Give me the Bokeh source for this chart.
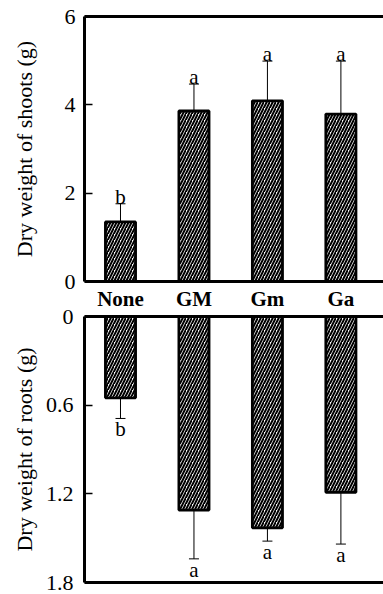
from bokeh.plotting import figure
from bokeh.layouts import column
from bokeh.models import Range1d, FixedTicker, LinearAxis, Whisker, TeeHead, ColumnDataSource
from bokeh.core.properties import value
from bokeh.embed import file_html
from bokeh.resources import INLINE

# ---- data ----
cats = ["None", "GM", "Gm", "Ga"]
shoot_mean = [1.35, 3.86, 4.09, 3.79]
shoot_err_low = [0.77, 3.28, 2.93, 2.34]
shoot_err_high = [1.76, 4.47, 4.99, 4.99]
shoot_sig = ["b", "a", "a", "a"]

root_mean = [0.55, 1.31, 1.43, 1.19]
root_err_near = [0.41, 1.00, 1.34, 0.86]
root_err_far = [0.69, 1.64, 1.52, 1.54]
root_sig = ["b", "a", "a", "a"]

shoot_ticks = [0, 2, 4, 6]
root_ticks = [0, 0.6, 1.2, 1.8]

FONT = "Liberation Serif"
xpos = list(range(1, len(cats) + 1))
x_range = Range1d(0.51, 4.58)


def plain_axis(ax):
    ax.ticker = FixedTicker(ticks=[])
    ax.axis_line_width = 3
    ax.major_tick_line_color = None
    ax.minor_tick_line_color = None
    ax.major_tick_in = 0
    ax.major_tick_out = 0
    ax.minor_tick_in = 0
    ax.minor_tick_out = 0
    ax.major_label_text_font_size = "0px"
    ax.major_label_standoff = 0
    ax.axis_label_standoff = 0


def style_left(ax, ticks, label, label_standoff, tick_standoff):
    ax.ticker = FixedTicker(ticks=ticks)
    ax.axis_line_width = 3
    ax.major_tick_in = 8
    ax.major_tick_out = 0
    ax.minor_tick_out = 0
    ax.major_tick_line_width = 1.5
    ax.minor_tick_line_color = None
    ax.major_label_text_font = FONT
    ax.major_label_text_font_size = "22px"
    ax.major_label_text_color = "black"
    ax.major_label_standoff = tick_standoff
    ax.axis_label = label
    ax.axis_label_text_font = FONT
    ax.axis_label_text_font_size = "22px"
    ax.axis_label_text_font_style = "normal"
    ax.axis_label_text_color = "black"
    ax.axis_label_standoff = label_standoff


bar_style = dict(fill_color="white", line_color="black", line_width=2.8,
                 hatch_pattern="/", hatch_color="black", hatch_scale=6, hatch_weight=2.0)

# ---- shoots ----
top = figure(width=383, height=313, output_backend="svg", toolbar_location=None,
             x_range=x_range, y_range=Range1d(0, 6),
             min_border_left=84, min_border_right=0, min_border_top=16, min_border_bottom=31)
top.outline_line_color = None
top.grid.visible = False

src_s = ColumnDataSource(dict(x=xpos, top=shoot_mean, lo=shoot_err_low, hi=shoot_err_high, sig=shoot_sig))
top.vbar(x="x", top="top", bottom=0, width=0.41, source=src_s, **bar_style)
top.add_layout(Whisker(source=src_s, base="x", upper="hi", lower="lo", line_color="black", line_width=1,
                       upper_head=TeeHead(size=10, line_width=1),
                       lower_head=TeeHead(size=10, line_width=1)))
top.text(x="x", y="hi", text="sig", source=src_s, text_font=value(FONT), text_font_size="21px",
         text_align="center", text_baseline="alphabetic", y_offset=-7, text_color="black")

xa = top.xaxis[0]
xa.ticker = FixedTicker(ticks=xpos)
xa.major_label_overrides = {x: c for x, c in zip(xpos, cats)}
xa.major_label_text_font = FONT
xa.major_label_text_font_style = "bold"
xa.major_label_text_font_size = "21px"
xa.major_label_text_color = "black"
xa.major_label_standoff = 5
xa.major_tick_line_color = None
xa.minor_tick_line_color = None
xa.major_tick_in = 0
xa.major_tick_out = 0
xa.minor_tick_in = 0
xa.minor_tick_out = 0
xa.axis_line_width = 3
style_left(top.yaxis[0], shoot_ticks, "Dry weight of shoots (g)", 25, 9)
top_line = LinearAxis()
plain_axis(top_line)
top.add_layout(top_line, "above")

# ---- roots ----
bot = figure(width=383, height=294, output_backend="svg", toolbar_location=None,
             x_range=x_range, y_range=Range1d(1.8, 0),
             min_border_left=84, min_border_right=0, min_border_top=16, min_border_bottom=12)
bot.outline_line_color = None
bot.grid.visible = False
bot.border_fill_color = None
bot.background_fill_color = None
bot.margin = (-13, 0, 0, 0)

src_r = ColumnDataSource(dict(x=xpos, bottom=root_mean, near=root_err_near, far=root_err_far, sig=root_sig))
bot.vbar(x="x", top=0, bottom="bottom", width=0.41, source=src_r, **bar_style)
bot.add_layout(Whisker(source=src_r, base="x", upper="far", lower="near", line_color="black", line_width=1,
                       upper_head=TeeHead(size=10, line_width=1),
                       lower_head=TeeHead(size=10, line_width=1)))
bot.text(x="x", y="far", text="sig", source=src_r, text_font=value(FONT), text_font_size="21px",
         text_align="center", text_baseline="top", y_offset=-1, text_color="black")

plain_axis(bot.xaxis[0])
bottom_top_line = LinearAxis()
plain_axis(bottom_top_line)
bot.add_layout(bottom_top_line, "above")

style_left(bot.yaxis[0], root_ticks, "Dry weight of roots (g)", 6, 11)
bot.yaxis[0].major_label_overrides = {0: "0"}

layout = column(top, bot, spacing=0)
open("out.html", "w").write(file_html(layout, INLINE))
